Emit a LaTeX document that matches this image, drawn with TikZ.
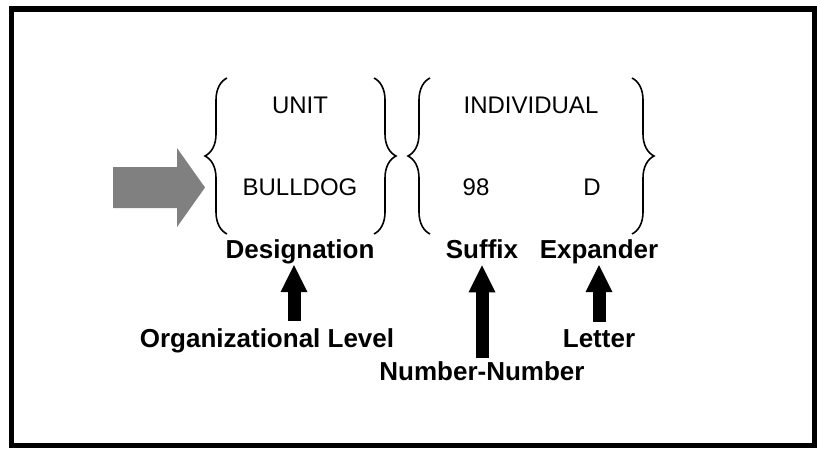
\documentclass[tikz,border=0pt]{standalone}
\usepackage{fontspec}
\setmainfont{Liberation Sans}
\usetikzlibrary{arrows.meta, decorations.pathreplacing}
\definecolor{arrowgray}{RGB}{128,128,128}

\begin{document}
\begin{tikzpicture}[x=1pt, y=-1pt,
    fieldtext/.style={anchor=base, inner sep=0pt, font=\fontsize{24}{28}\selectfont},
    parttext/.style={anchor=base, inner sep=0pt, font=\fontsize{26}{30}\selectfont\bfseries},
    curly/.style={decorate, decoration={brace, amplitude=22pt}, line width=1.6pt},
    blockarrow/.style={-{Triangle[width=27pt, length=27pt, line width=0pt]}, line width=13pt}]

    % --- Frame ---
    \useasboundingbox (0,0) rectangle (817,448);
    \draw[line width=5.5pt] (11.5,9) rectangle (814.5,445.5);

    % --- Gray pointer ---
    \fill[arrowgray] (113,167) -- (177,167) -- (177,148) -- (205,187.5)
        -- (177,227) -- (177,208) -- (113,208) -- cycle;

    % --- Braces ---
    \draw[curly] (227,234) -- (227,78);
    \draw[curly] (374,78) -- (374,234);
    \draw[curly] (430,234) -- (430,78);
    \draw[curly] (632,78) -- (632,234);

    % --- Fields ---
    \node[fieldtext] (unit) at (300,113) {UNIT};
    \node[fieldtext] (bulldog) at (300,195) {BULLDOG};
    \node[fieldtext] (individual) at (531,113) {INDIVIDUAL};
    \node[fieldtext] (num) at (476,195) {98};
    \node[fieldtext] (letterd) at (592,195) {D};

    % --- Part names ---
    \node[parttext] (designation) at (300,258) {Designation};
    \node[parttext] (suffix) at (482,258) {Suffix};
    \node[parttext] (expander) at (599,258) {Expander};
    \node[parttext] (orglevel) at (267,347) {Organizational Level};
    \node[parttext] (letter) at (599,347) {Letter};
    \node[parttext] (numnum) at (482,380) {Number-Number};

    % --- Arrows ---
    \draw[blockarrow, shorten <=7pt, shorten >=1.5pt]
        ([xshift=27pt]orglevel.north) -- ([xshift=-6pt]designation.south);
    \draw[blockarrow, shorten <=3pt, shorten >=7pt] (numnum.north) -- (suffix.south);
    \draw[blockarrow, shorten <=7pt, shorten >=1.5pt] (letter.north) -- (expander.south);

\end{tikzpicture}
\end{document}
